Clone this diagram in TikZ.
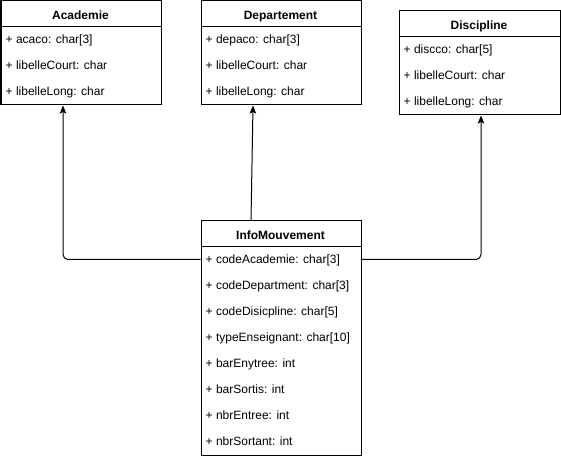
\documentclass[tikz,border=0pt]{standalone}
\usepackage{fontspec}
\setmainfont{Liberation Sans}
\usetikzlibrary{arrows.meta}
\begin{document}
\begin{tikzpicture}[x=1bp,y=-1bp,
  box/.style={draw, line width=1bp, inner sep=0pt, anchor=north west, minimum width=160bp},
  hdrtext/.style={font=\fontsize{12bp}{14bp}\selectfont\bfseries, anchor=base, inner sep=0pt},
  attr/.style={font=\fontsize{12bp}{14bp}\selectfont, anchor=base west, inner sep=0pt},
  link/.style={draw, line width=1bp, rounded corners=5bp, -{Stealth[length=8bp,width=6.5bp,inset=1.5bp]}}
]
\useasboundingbox (0,0) rectangle (561,458);

% Academie
\node[box, minimum height=104bp] (aca) at (0.5,0.5) {};
\node[box, minimum height=26bp] (acah) at (0.5,0.5) {};
\node[hdrtext] (acat) at (80.5,19.5) {Academie};
\node[attr] (aca1) at (5.5,43.5) {+ acaco: char[3]};
\node[attr] (aca2) at (5.5,69.5) {+ libelleCourt: char};
\node[attr] (aca3) at (5.5,95.5) {+ libelleLong: char};

% Departement
\node[box, minimum height=104bp] (dep) at (200.5,0.5) {};
\node[box, minimum height=26bp] (deph) at (200.5,0.5) {};
\node[hdrtext] (dept) at (280.5,19.5) {Departement};
\node[attr] (dep1) at (205.5,43.5) {+ depaco: char[3]};
\node[attr] (dep2) at (205.5,69.5) {+ libelleCourt: char};
\node[attr] (dep3) at (205.5,95.5) {+ libelleLong: char};

% Discipline
\node[box, minimum height=104bp, minimum width=161bp] (dis) at (398.5,10.5) {};
\node[box, minimum height=26bp, minimum width=161bp] (dish) at (398.5,10.5) {};
\node[hdrtext] (dist) at (479,29.5) {Discipline};
\node[attr] (dis1) at (403.5,53.5) {+ discco: char[5]};
\node[attr] (dis2) at (403.5,79.5) {+ libelleCourt: char};
\node[attr] (dis3) at (403.5,105.5) {+ libelleLong: char};

% InfoMouvement
\node[box, minimum height=234bp] (im) at (200.5,220.5) {};
\node[box, minimum height=26bp] (imh) at (200.5,220.5) {};
\node[hdrtext] (imt) at (280.5,239.5) {InfoMouvement};
\node[attr] (im1) at (205.5,263.5) {+ codeAcademie: char[3]};
\node[attr] (im2) at (205.5,289.5) {+ codeDepartment: char[3]};
\node[attr] (im3) at (205.5,315.5) {+ codeDisicpline: char[5]};
\node[attr] (im4) at (205.5,341.5) {+ typeEnseignant: char[10]};
\node[attr] (im5) at (205.5,367.5) {+ barEnytree: int};
\node[attr] (im6) at (205.5,393.5) {+ barSortis: int};
\node[attr] (im7) at (205.5,419.5) {+ nbrEntree: int};
\node[attr] (im8) at (205.5,445.5) {+ nbrSortant: int};

% connector end points
\coordinate (imL) at (200.5,259.5);
\coordinate (imR) at (360.5,259.5);
\coordinate (acaIn) at ([xshift=-18bp]aca.south);
\coordinate (depIn) at ([xshift=-28bp]dep.south);
\coordinate (depOut) at ([xshift=-30bp]im.north);
\coordinate (disIn) at ([xshift=1.5bp]dis.south);

\path[link] (imL) -| (acaIn);
\path[link] (depOut) -- (depIn);
\path[link] (imR) -| (disIn);
\end{tikzpicture}
\end{document}
